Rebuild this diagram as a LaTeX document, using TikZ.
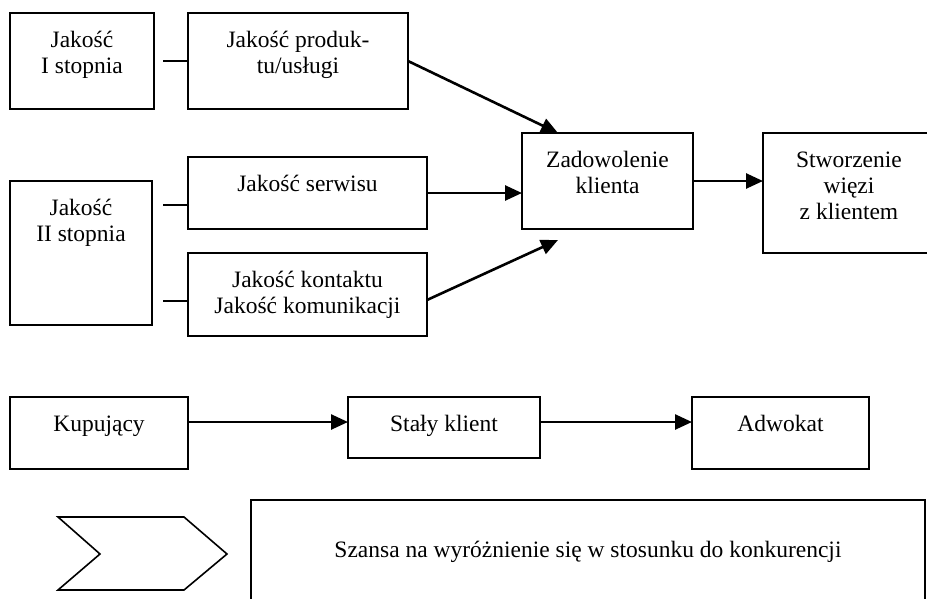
\documentclass[tikz,border=0pt]{standalone}
\usepackage{fontspec}
\setmainfont{Liberation Serif}
\usepackage{tikz}
\usetikzlibrary{arrows.meta}
\newcommand{\boxtext}[4][34]{\parbox[t][#3pt][t]{#2pt}{\centering\rule{0pt}{#1pt}#4}}

\begin{document}
\begin{tikzpicture}[x=1pt,y=-1pt,
    qbox/.style={draw,line width=2pt,inner sep=0pt,outer sep=0pt,anchor=north west,
                 font=\fontsize{23.5}{26}\selectfont},
    link/.style={line width=2.6pt},
    arr/.style={line width=2.6pt,-{Triangle[length=17pt,width=15pt]}}]
    \clip (0,0) rectangle (927,598);
    \node[qbox] (jak1) at (10,13) {\boxtext{144}{96}{Jakość\\I stopnia}};
    \node[qbox] (prod) at (188,13) {\boxtext{220}{96}{Jakość produk-\\tu/usługi}};
    \node[qbox] (jak2) at (10,181) {\boxtext{142}{144}{Jakość\\II stopnia}};
    \node[qbox] (serw) at (188,157) {\boxtext{239}{72}{Jakość serwisu}};
    \node[qbox] (kont) at (188,253) {\boxtext{239}{83}{Jakość kontaktu\\Jakość komunikacji}};
    \node[qbox] (zad) at (522,133) {\boxtext{171}{96}{Zadowolenie\\klienta}};
    \node[qbox] (stw) at (763,133) {\boxtext{172}{120}{Stworzenie\\więzi\\z klientem}};
    \node[qbox] (kup) at (10,397) {\boxtext{178}{72}{Kupujący}};
    \node[qbox] (staly) at (348,397) {\boxtext{192}{61}{Stały klient}};
    \node[qbox] (adw) at (692,397) {\boxtext{177}{72}{Adwokat}};
    \node[qbox] (szansa) at (251,500) {\boxtext[57]{674}{103}{Szansa na wyróżnienie się w stosunku do konkurencji}};
    % chevron
    \draw[line width=1.6pt] (58,517) -- (184,517) -- (227,554) -- (184,590) -- (58,590) -- (100,554) -- cycle;
    % connectors
    \coordinate (j1out) at (163,61);
    \coordinate (j2a) at (163,205);
    \coordinate (j2b) at (163,301);
    \draw[link] (j1out) -- (prod.west);
    \draw[link] (j2a) -- (j2a -| serw.west);
    \draw[link] (j2b) -- (j2b -| kont.west);
    \draw[arr] (prod.east) -- ([xshift=-49.5pt]zad.north);
    \draw[arr] (serw.east) -- (serw.east -| zad.west);
    \draw[arr] ([yshift=-5.5pt]kont.east) -- ([xshift=-49.5pt,yshift=-11pt]zad.south);
    \draw[arr] (zad.east) -- (zad.east -| stw.west);
    \draw[arr] ([yshift=-25pt]kup.north east) -- ([yshift=-25pt]kup.north east -| staly.west);
    \draw[arr] ([yshift=-25pt]staly.north east) -- ([yshift=-25pt]staly.north east -| adw.west);
\end{tikzpicture}
\end{document}
